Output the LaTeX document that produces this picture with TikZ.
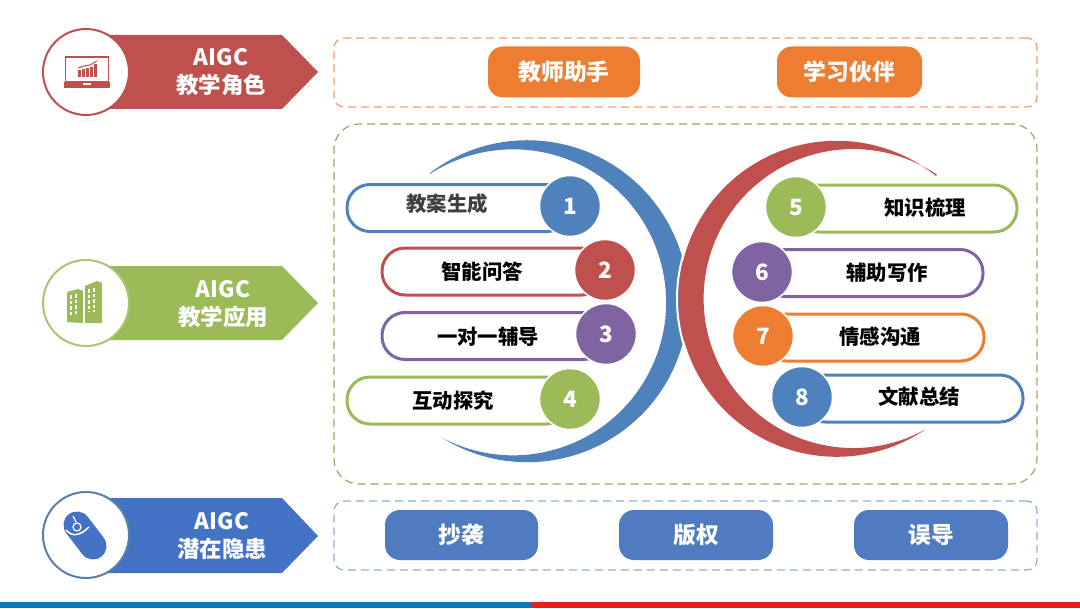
\documentclass[tikz,border=0pt]{standalone}
\usepackage{fontspec}
\setmainfont{Noto Sans CJK SC}
\usepackage{tikz}

\definecolor{redc}{HTML}{C0504D}
\definecolor{greenc}{HTML}{9BBB59}
\definecolor{bluec}{HTML}{4F81BD}
\definecolor{purplec}{HTML}{8064A2}
\definecolor{orangec}{HTML}{ED7D31}
\definecolor{headblue}{HTML}{4472C4}
\definecolor{tagblue}{HTML}{4F7BC0}
\definecolor{slatec}{HTML}{5A7FA8}
\definecolor{stripblue}{HTML}{0F75BC}
\definecolor{stripred}{HTML}{E3211C}
\newlength{\px}
\setlength{\px}{0.025cm}

\tikzset{
	banner/.style={inner sep=0pt, font=\bfseries\fontsize{16}{20}\selectfont, text=white, align=center},
	badge/.style={shape=circle, fill=white, line width=2\px, minimum size=86\px},
	framebox/.style={rectangle, line width=1.2\px, dash pattern=on 8\px off 5\px, minimum width=703\px},
	tag/.style={rectangle, rounded corners=15\px, text=white, font=\bfseries\fontsize{16.2}{19}\selectfont},
	pill/.style={rectangle, fill=white, line width=3\px, rounded corners=23\px, minimum height=47\px},
	num/.style={shape=circle, draw=white, line width=1.5\px, minimum size=61\px, inner sep=0pt, text=white, font=\bfseries\fontsize{16}{18}\selectfont},
	word/.style={inner sep=0pt, font=\bfseries\fontsize{14.5}{17}\selectfont},
	windows/.style={white, line width=2.5\px, dash pattern=on 3.5\px off 2\px}
}

\begin{document}
\begin{tikzpicture}[x=0.025cm, y=0.025cm]
	\useasboundingbox (0,0) rectangle (1080,608);
	
	% bottom strip
	\fill[stripblue] (0,0) rectangle (532,6);
	\fill[stripred] (532,0) rectangle (1080,6);
	
	% dashed frames
	\node[framebox, draw=orangec!75, minimum height=69\px, rounded corners=10\px] (frameA) at (685.5,535.5) {};
	\node[framebox, draw=greenc!70!gray, minimum height=360\px, rounded corners=25\px] (frameB) at (685.5,304) {};
	\node[framebox, draw=bluec!65, minimum height=69\px, rounded corners=10\px] (frameC) at (685.5,72.5) {};
	
	% left banners
	\fill[redc] (86,573) -- (282,573) -- (318,536) -- (282,499) -- (86,499) -- cycle;
	\fill[greenc] (86,342) -- (282,342) -- (318,305) -- (282,268) -- (86,268) -- cycle;
	\fill[headblue] (86,110) -- (282,110) -- (318,72) -- (282,35) -- (86,35) -- cycle;
	
	\node[badge, draw=redc] (roleicon) at (86,536) {};
	\node[badge, draw=greenc!85!white] (useicon) at (86,305) {};
	\node[badge, draw=slatec] (riskicon) at (86,73) {};
	
	\node[banner] (roletext) at (221,536) {AIGC\\教学角色};
	\node[banner] (usetext) at (223,304) {AIGC\\教学应用};
	\node[banner] (risktext) at (222,72) {AIGC\\潜在隐患};
	
	% laptop icon
	\draw[redc, line width=1.5\px] (65.5,551) rectangle (108.5,526);
	\fill[redc] (64,526) rectangle (110,520);
	\fill[white] (83,524.5) rectangle (91,523);
	\fill[redc] (78,531) rectangle (80.5,538);
	\fill[redc] (82,531) rectangle (84.5,539);
	\fill[redc] (86,531) rectangle (88.5,540);
	\fill[redc] (90,531) rectangle (92.5,541);
	\fill[redc] (94,531) rectangle (96.5,544);
	\draw[redc, line width=1\px] (78,540) -- (84,542) -- (90,543) -- (97,547);
	
	% building icon
	\fill[greenc] (65,286) -- (67,286) -- (67,316) -- (78,319) -- (83,317) -- (83,285) -- cycle;
	\fill[greenc] (85,285) -- (85,322) -- (97,327) -- (102,325) -- (102,285) -- cycle;
	\draw[windows] (71,313) -- (71,292);
	\draw[windows] (76,314) -- (76,292);
	\draw[windows] (89,319) -- (89,296);
	\draw[windows] (94,320) -- (94,296);
	
	% mouse icon
	\draw[headblue, line width=27\px, line cap=round] (77,83) -- (93,62);
	\draw[white, line width=1.5\px] (66,78) .. controls (72,71) and (80,72) .. (89,81);
	\draw[white, line width=1.2\px] (77,81) circle[radius=4];
	\draw[white, line width=1.2\px] (73,92) -- (76,86);
	
	% orange and blue tags
	\node[tag, fill=orangec, minimum width=152\px, minimum height=51\px] (helper) at (564,536) {教师助手};
	\node[tag, fill=orangec, minimum width=145\px, minimum height=51\px] (partner) at (849.5,536) {学习伙伴};
	\node[tag, fill=tagblue, minimum width=153\px, minimum height=50\px] (copying) at (461.5,73) {抄袭};
	\node[tag, fill=tagblue, minimum width=154\px, minimum height=50\px] (rights) at (696,73) {版权};
	\node[tag, fill=tagblue, minimum width=154\px, minimum height=50\px] (mislead) at (931,73) {误导};
	
	% crescents
	\fill[bluec] (430,435) arc[start angle=127.2, end angle=-122, radius=161] arc[start angle=-117.7, end angle=123.1, radius=153] -- cycle;
	\draw[white, line width=2\px] (836,309) ++(150:159) arc[start angle=150, end angle=210, radius=159];
	\fill[redc] (936,432) arc[start angle=51, end angle=304.4, radius=158] arc[start angle=299.1, end angle=55.9, radius=149.5] -- cycle;
	
	% left pills
	\node[pill, draw=bluec, minimum width=223\px] (pillA) at (458.5,400) {};
	\node[pill, draw=redc, minimum width=223\px] (pillB) at (493.5,336.5) {};
	\node[pill, draw=purplec, minimum width=224\px] (pillC) at (494,272) {};
	\node[pill, draw=greenc, minimum width=223\px] (pillD) at (458.5,207.5) {};
	
	\node[num, fill=bluec] (numA) at (570,402) {1};
	\node[num, fill=redc] (numB) at (605,338) {2};
	\node[num, fill=purplec] (numC) at (606,274) {3};
	\node[num, fill=greenc] (numD) at (570,209) {4};
	
	\node[word, text=black!75] (wordA) at (447,404) {教案生成};
	\node[word] (wordB) at (482,336) {智能问答};
	\node[word] (wordC) at (488,271) {一对一辅导};
	\node[word] (wordD) at (453,207) {互动探究};
	
	% right pills
	\node[pill, draw=greenc, minimum width=221\px] (pillE) at (906.5,399.5) {};
	\node[pill, draw=purplec, minimum width=221\px] (pillF) at (872.5,335) {};
	\node[pill, draw=orangec, minimum width=221\px] (pillG) at (873.5,270.5) {};
	\node[pill, draw=bluec, minimum width=221\px] (pillH) at (912.5,209.5) {};
	
	\node[num, fill=greenc] (numE) at (796,401) {5};
	\node[num, fill=purplec] (numF) at (762,336) {6};
	\node[num, fill=orangec] (numG) at (763,272) {7};
	\node[num, fill=bluec] (numH) at (802,211) {8};
	
	\node[word] (wordE) at (925,400) {知识梳理};
	\node[word] (wordF) at (887,335) {辅助写作};
	\node[word] (wordG) at (880,271) {情感沟通};
	\node[word] (wordH) at (919,211) {文献总结};
\end{tikzpicture}
\end{document}
